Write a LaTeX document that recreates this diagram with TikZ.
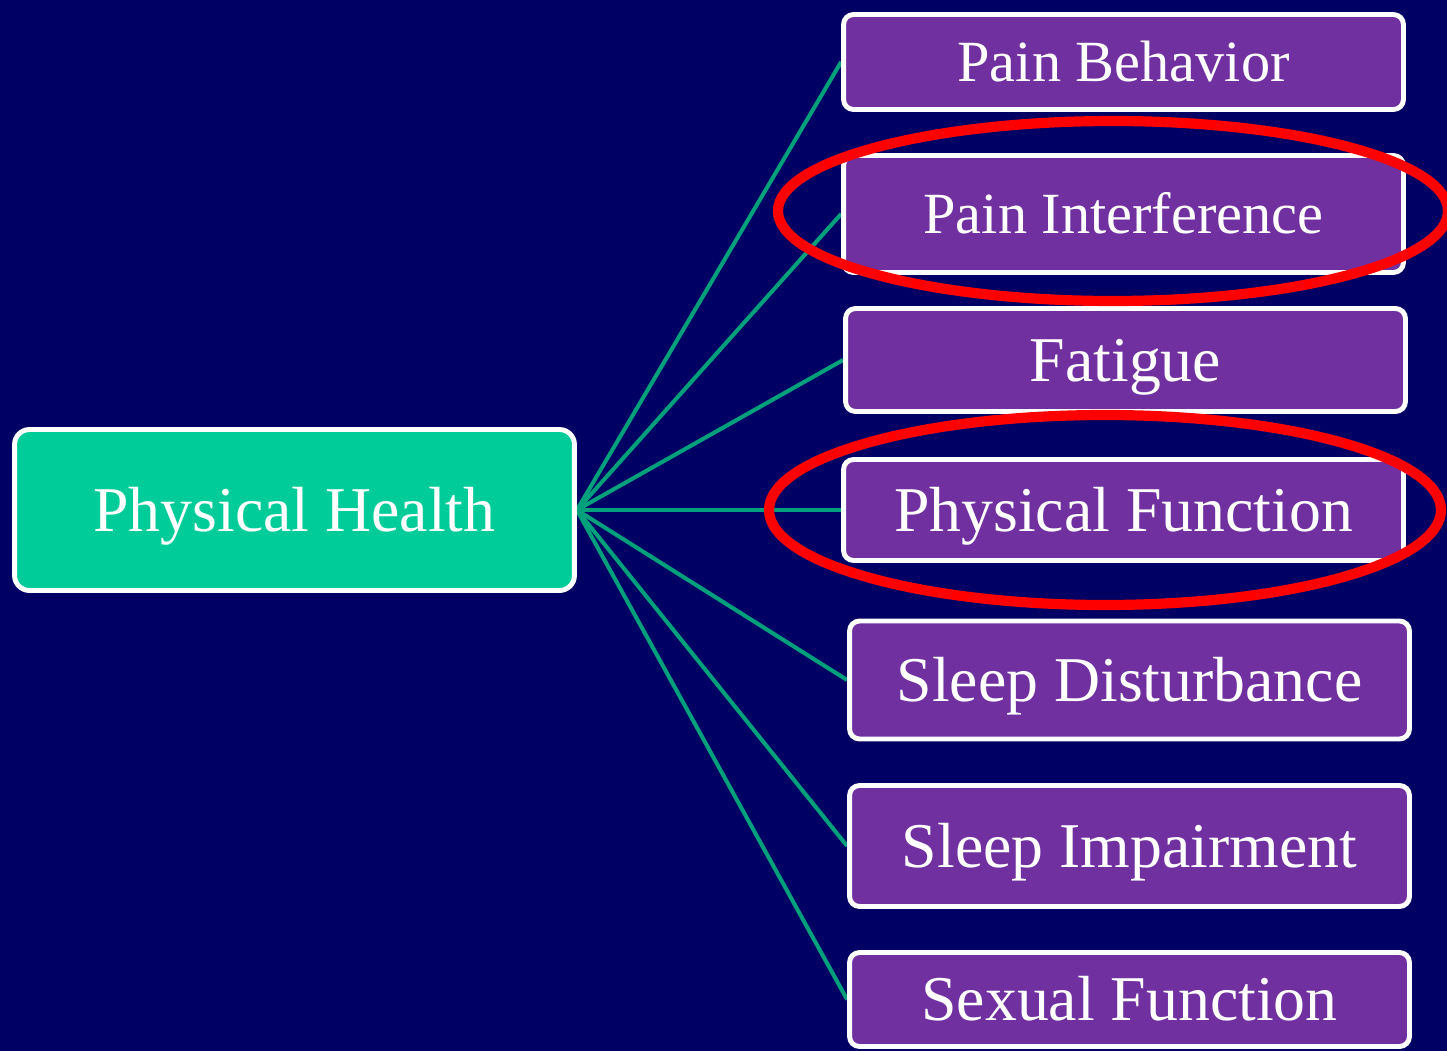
\documentclass[tikz,border=0pt]{standalone}
\usepackage{fontspec}
\setmainfont{Liberation Serif}
\usepackage{xcolor}
\usepackage{tikz}
\usetikzlibrary{backgrounds}
\definecolor{slidenavy}{HTML}{000064}
\definecolor{rootgreen}{HTML}{00CC99}
\definecolor{leafpurple}{HTML}{7030A0}
\definecolor{linkgreen}{HTML}{00A07C}
\begin{document}
\begin{tikzpicture}[x=0.02cm,y=-0.02cm,
    box/.style={draw=white,line width=2.8pt,text=white,inner sep=0pt,minimum width=11.2cm,text depth=0pt},
    root/.style={box,fill=rootgreen,rounded corners=0.3cm,font=\fontsize{36.3}{40}\selectfont,text height=24pt},
    leaf/.style={box,fill=leafpurple,rounded corners=0.2cm,font=\fontsize{36.3}{40}\selectfont,text height=24pt},
    smallleaf/.style={leaf,font=\fontsize{33.2}{37}\selectfont,text height=22pt},
    link/.style={draw=linkgreen,line width=2.3pt},
    ring/.style={draw=red,line width=5.8pt}]
    \useasboundingbox (0,0) rectangle (1447,1051);
    \node[root,minimum height=3.22cm] (health) at (294.5,510) {Physical Health};
    \node[smallleaf,minimum height=1.9cm] (painbeh) at (1123.5,62) {Pain Behavior};
    \node[smallleaf,minimum height=2.34cm] (painint) at (1123.5,214) {Pain Interference};
    \node[leaf,minimum height=2.06cm] (fatigue) at (1125.5,360) {Fatigue};
    \node[leaf,minimum height=2.02cm] (physfun) at (1123.5,510) {Physical Function};
    \node[leaf,minimum height=2.36cm] (sleepdis) at (1129.5,680) {Sleep Disturbance};
    \node[leaf,minimum height=2.42cm] (sleepimp) at (1129.5,846) {Sleep Impairment};
    \node[leaf,minimum height=1.88cm] (sexfun) at (1129.5,999.5) {Sexual Function};
    \begin{pgfonlayer}{background}
        \fill[slidenavy] (0,0) rectangle (1447,1051);
        \foreach \leafname in {painbeh,painint,fatigue,physfun,sleepdis,sleepimp,sexfun}
            \draw[link] (health.east) -- (\leafname.west);
    \end{pgfonlayer}
    \draw[ring] (1113,211) ellipse [x radius=335, y radius=90];
    \draw[ring] (1105,510) ellipse [x radius=336, y radius=95];
\end{tikzpicture}
\end{document}
